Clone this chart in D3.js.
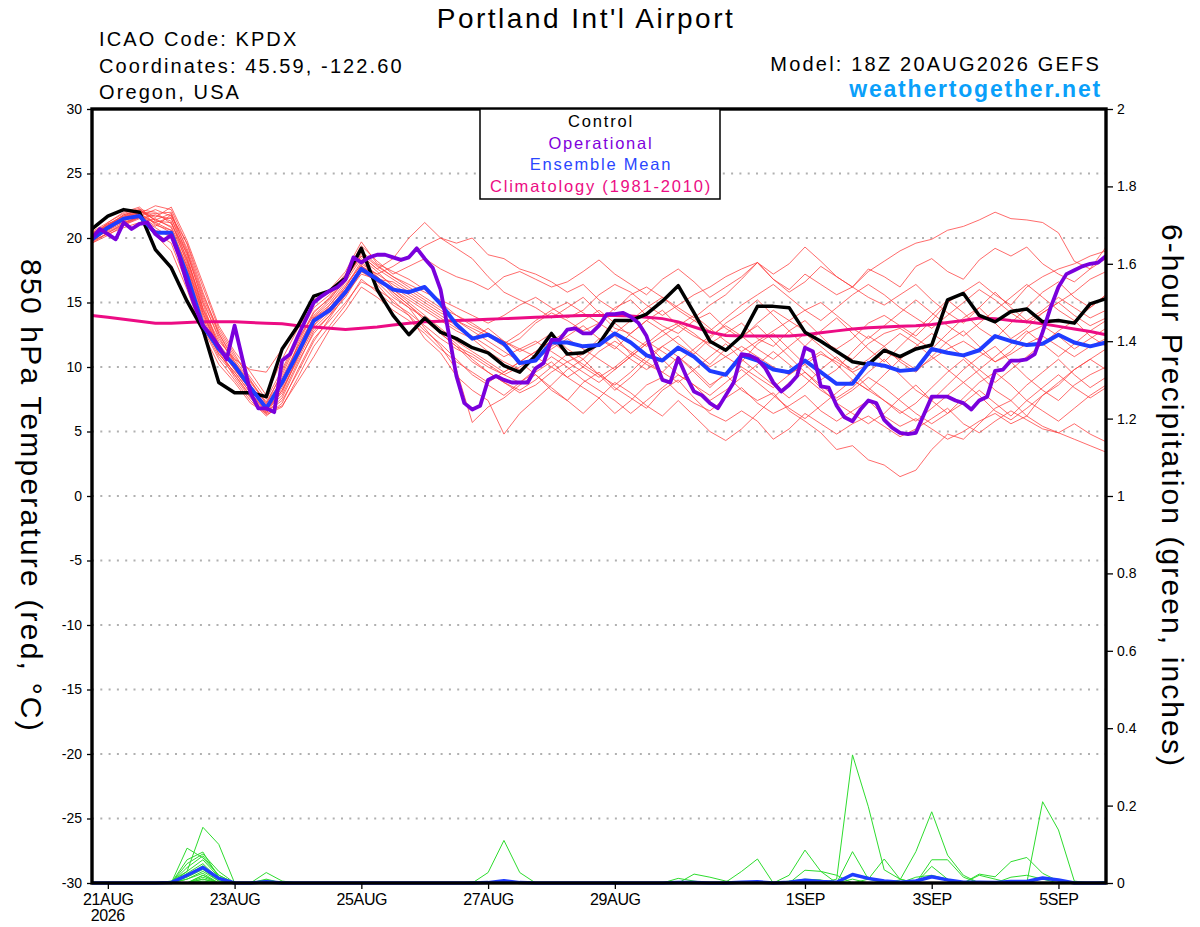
<!DOCTYPE html>
<html>
<head>
<meta charset="utf-8">
<script src="https://cdn.jsdelivr.net/npm/d3@7"></script>
<style>
html, body { margin: 0; padding: 0; background: #fff; }
svg { display: block; }
</style>
</head>
<body>
<svg id="chart" width="1200" height="927"></svg>
<script>
// run start and axis ticks
const runStart = "2026-08-20T18:00:00Z";
const tickDates = ["2026-08-21", "2026-08-23", "2026-08-25", "2026-08-27", "2026-08-29", "2026-09-01", "2026-09-03", "2026-09-05"];
const tickLabels = ["21AUG", "23AUG", "25AUG", "27AUG", "29AUG", "1SEP", "3SEP", "5SEP"];
const tempTicks = [30, 25, 20, 15, 10, 5, 0, -5, -10, -15, -20, -25, -30];
const precipTicks = [0, 0.2, 0.4, 0.6, 0.8, 1, 1.2, 1.4, 1.6, 1.8, 2];

// 850 hPa temperature, 6-hourly (65 steps)
const tempControl = [20.7,21.7,22.2,22.0,19.1,17.7,15.1,12.9,8.8,8.0,8.0,7.7,11.4,13.2,15.5,15.9,16.9,19.2,16.0,14.0,12.5,13.8,12.7,12.2,11.5,11.1,10.1,9.6,10.9,12.6,11.0,11.1,11.8,13.6,13.6,14.1,15.1,16.3,14.2,12.0,11.3,12.4,14.7,14.7,14.6,12.7,12.0,11.2,10.4,10.2,11.3,10.8,11.4,11.7,15.2,15.7,14.0,13.5,14.3,14.5,13.5,13.6,13.4,14.9,15.3];
const tempEnsMean = [19.9,20.8,21.5,21.7,20.4,20.4,17.1,13.2,11.4,10.1,8.4,6.8,8.8,11.1,13.6,14.4,15.8,17.6,16.8,16.0,15.8,16.2,14.9,13.3,12.2,12.5,11.8,10.3,10.5,11.9,11.9,11.6,11.7,12.6,11.9,10.9,10.5,11.5,10.8,9.7,9.4,10.9,10.5,9.8,9.6,10.5,9.6,8.7,8.7,10.3,10.1,9.7,9.8,11.4,11.1,10.9,11.3,12.4,12.0,11.7,11.8,12.5,11.9,11.6,11.9];
const tempClimo = [14.0,13.85,13.7,13.55,13.4,13.4,13.45,13.5,13.5,13.5,13.45,13.4,13.35,13.2,13.1,13.0,12.9,13.0,13.1,13.25,13.4,13.5,13.55,13.6,13.65,13.7,13.75,13.8,13.85,13.9,13.95,14.0,14.0,14.0,13.95,13.85,13.75,13.5,13.1,12.7,12.45,12.4,12.4,12.4,12.4,12.5,12.65,12.8,12.95,13.05,13.1,13.15,13.2,13.3,13.45,13.6,13.8,13.75,13.6,13.5,13.35,13.15,12.95,12.75,12.5];
// operational run is 3-hourly (129 steps)
const tempOperational = [
  20.0,20.7,20.3,19.9,21.2,20.7,21.1,21.2,20.3,19.8,
  20.2,18.6,16.5,14.7,13.2,12.5,11.6,10.6,13.2,10.6,
  8.0,6.8,6.8,6.5,10.5,11.0,12.4,13.7,15.0,15.5,
  15.9,16.2,16.8,18.5,18.1,18.5,18.7,18.7,18.5,18.3,
  18.5,19.2,18.4,17.7,16.0,12.7,9.3,7.2,6.7,7.0,
  9.0,9.3,9.0,8.8,8.8,8.8,9.9,10.3,12.1,12.1,
  12.9,13.0,12.6,12.6,13.2,14.1,14.1,14.2,13.9,13.4,
  12.4,10.6,9.0,8.8,10.7,9.3,8.1,7.8,7.2,6.8,
  7.8,8.8,11.0,10.9,10.6,9.9,8.8,8.1,8.6,9.3,
  11.5,11.2,8.5,8.4,7.0,6.1,5.8,6.7,7.4,7.2,
  5.9,5.3,4.9,4.8,4.9,6.3,7.7,7.7,7.7,7.4,
  7.2,6.7,7.4,7.7,9.7,9.8,10.5,10.5,10.6,11.0,
  12.7,14.6,16.2,17.2,17.5,17.8,18.0,18.1,18.6];

const tempMembers = [
  [20.1,21.0,21.8,22.1,21.4,21.9,18.6,14.5,11.8,10.2,8.4,7.0,8.6,11.2,13.8,14.8,16.2,18.0,17.2,17.8,18.6,19.4,20.0,19.6,20.0,18.7,18.4,17.6,17.2,16.6,15.8,16.4,15.2,14.4,15.6,16.2,15.4,14.6,13.8,14.8,15.6,16.8,18.1,16.8,16.0,17.2,16.4,15.6,16.2,17.4,18.2,19.0,19.6,19.9,20.6,20.9,21.4,22.0,21.5,21.4,21.2,20.4,18.2,17.6,19.3],
  [19.8,20.6,21.4,21.9,22.5,22.2,19.5,15.8,12.6,10.6,8.9,7.3,9.4,12.0,14.3,15.3,16.8,18.6,17.6,18.4,20.0,21.2,20.0,19.2,18.4,17.0,15.8,15.2,14.6,13.8,14.6,15.4,14.2,13.0,12.6,13.6,14.4,13.2,12.4,11.8,12.6,13.4,12.2,11.6,12.8,13.6,12.4,11.2,10.6,11.8,12.6,13.0,12.2,11.4,12.6,13.8,14.6,13.4,12.2,13.0,14.2,15.0,14.0,13.2,13.8],
  [20.3,20.9,21.2,21.6,20.8,20.0,17.2,13.6,11.0,9.6,8.0,6.5,7.6,10.2,12.8,14.0,15.4,17.4,16.6,16.0,15.2,14.4,13.6,12.8,12.2,13.0,12.0,11.2,11.8,12.6,11.4,10.6,11.8,12.4,11.0,10.2,9.6,10.8,9.8,8.6,9.4,8.2,7.4,8.0,6.6,5.8,4.9,3.6,3.9,2.8,2.4,1.5,2.0,3.6,4.8,4.4,5.6,6.8,7.4,6.2,7.8,8.6,9.8,10.6,11.4],
  [19.6,20.4,21.0,21.5,21.8,21.3,18.0,14.2,11.5,9.8,8.2,6.8,8.0,10.8,13.4,14.6,16.0,17.8,17.0,15.6,14.6,13.0,11.6,9.8,5.7,6.9,7.6,8.6,9.4,8.2,7.4,8.8,9.6,8.4,7.6,6.8,8.2,9.0,7.6,6.4,5.8,6.6,5.8,4.4,5.2,6.4,5.6,4.8,5.6,6.2,5.4,4.6,5.2,6.0,6.8,5.6,4.9,5.8,6.6,5.9,5.2,4.9,4.4,3.9,3.4],
  [20.5,21.2,21.9,22.3,21.0,20.6,17.6,13.8,11.2,9.2,7.6,6.3,6.9,9.2,11.6,13.2,14.8,16.8,15.8,14.8,14.0,12.2,11.1,9.3,8.2,7.4,4.8,6.4,7.5,8.6,9.8,10.6,9.4,8.2,9.2,10.4,11.6,10.8,9.6,8.4,9.6,10.4,11.8,12.6,11.4,10.2,9.0,9.8,11.2,12.4,11.6,10.4,9.6,10.8,12.0,12.8,11.6,10.4,11.2,12.6,13.2,12.4,11.4,12.2,13.0],
  [19.9,20.8,21.6,22.0,21.6,22.4,19.8,16.5,13.2,11.2,9.6,7.8,10.6,13.0,15.0,15.8,17.2,19.4,18.2,17.2,17.8,18.4,17.6,17.0,16.6,16.0,17.0,17.4,16.8,16.2,16.6,17.4,18.3,17.2,16.4,15.6,16.8,17.6,16.6,15.4,16.2,17.0,18.1,16.8,15.8,16.6,17.8,17.0,16.2,17.6,17.0,16.2,17.8,18.4,17.4,16.8,18.3,19.2,18.6,19.3,18.0,17.2,16.6,17.6,18.4],
  [20.0,20.5,21.1,21.7,21.2,21.6,18.3,14.9,11.6,10.0,8.6,6.6,8.2,10.6,13.0,14.2,15.6,17.2,16.8,16.6,15.8,15.0,14.2,13.6,13.0,12.4,11.6,12.2,13.4,14.2,13.6,12.8,13.4,14.6,15.2,14.0,13.2,12.6,13.6,14.2,13.0,12.2,13.4,14.4,13.6,12.8,12.0,11.4,12.2,13.4,14.0,13.2,12.4,13.6,15.0,15.8,16.6,15.6,14.8,16.2,17.0,17.6,18.0,18.6,19.0],
  [19.7,20.7,21.5,22.0,20.4,19.6,16.4,13.0,10.6,9.0,7.4,6.2,7.2,9.8,12.2,13.6,15.0,16.6,16.0,15.2,14.0,12.8,11.8,10.6,9.4,8.6,7.8,8.8,9.6,10.4,9.2,8.4,7.6,6.4,7.4,8.6,9.2,8.0,7.2,6.6,7.6,8.4,7.2,6.4,7.0,7.8,6.6,5.8,6.6,7.4,6.2,5.4,6.0,5.2,4.4,5.0,5.8,6.4,5.6,6.2,5.4,4.9,5.6,4.8,4.2],
  [20.2,21.1,21.7,22.2,22.0,21.1,18.8,15.2,12.2,10.4,8.8,7.2,9.0,11.6,13.9,15.0,16.6,18.4,17.4,16.2,15.4,14.6,13.8,13.0,12.4,11.6,10.8,11.4,12.0,11.2,10.4,11.0,12.2,11.6,10.6,9.8,10.6,11.4,10.8,10.0,10.8,11.6,10.8,10.0,9.4,10.2,11.0,10.4,9.6,10.2,11.2,10.6,9.8,10.6,11.4,12.0,11.2,10.4,11.0,11.8,12.4,11.6,10.8,11.6,12.2],
  [20.4,20.9,21.3,21.8,20.9,21.8,19.2,15.6,12.8,10.8,9.2,7.5,9.8,12.4,14.6,15.6,17.0,19.0,17.9,17.0,16.4,15.8,15.2,14.6,14.0,13.4,14.0,14.8,15.4,14.6,13.8,14.4,15.6,16.4,15.8,14.8,14.0,14.8,15.6,16.2,17.0,17.6,18.1,17.2,18.0,19.3,18.2,17.0,16.2,15.4,14.8,15.6,16.4,15.2,14.2,13.4,14.6,15.8,14.6,13.6,14.4,15.4,14.6,13.8,14.4],
  [19.8,20.3,20.8,21.2,21.5,20.8,17.8,14.0,11.4,9.4,7.8,6.5,7.4,9.6,12.0,13.8,15.6,17.6,16.6,15.4,14.6,13.8,12.8,11.8,10.6,9.6,8.8,8.2,9.0,10.0,11.0,10.2,9.4,8.6,9.6,10.8,11.6,12.4,11.2,10.2,11.4,12.4,13.2,12.0,10.8,9.6,8.6,7.6,8.4,9.6,10.6,9.4,8.2,7.4,8.6,9.8,10.8,11.6,10.4,9.2,8.2,7.4,8.6,9.4,10.0],
  [20.0,21.2,22.0,22.4,21.3,21.2,18.4,14.6,12.0,10.6,9.8,9.6,11.4,13.4,15.2,16.0,17.4,19.7,18.0,17.4,16.8,16.0,15.0,14.0,13.2,12.6,12.0,11.4,10.8,11.6,12.4,13.2,12.2,11.4,12.6,13.6,12.8,11.8,11.0,12.2,13.4,14.2,15.2,14.0,12.8,11.6,12.8,13.8,12.6,11.4,10.4,11.6,12.8,14.0,15.2,14.2,13.0,12.2,13.4,14.6,15.8,16.6,15.4,14.6,15.6],
  [19.6,20.2,21.0,21.6,20.2,19.0,16.0,12.6,10.2,8.8,7.2,6.4,7.0,8.9,10.8,12.9,14.4,16.2,15.4,14.4,13.6,12.6,11.4,10.4,9.6,8.8,9.6,10.4,9.4,8.4,7.4,6.4,7.6,8.8,8.0,7.0,6.2,7.4,6.2,5.0,4.3,5.2,6.4,7.6,8.8,9.6,8.4,7.2,6.4,5.6,6.4,7.6,8.6,7.4,6.4,7.6,8.8,9.6,8.6,7.4,6.6,5.8,6.8,7.8,8.6],
  [20.3,21.0,21.6,22.1,21.7,21.5,18.9,15.0,12.4,10.2,8.4,6.9,8.8,11.4,13.6,14.6,16.0,17.8,17.2,16.4,15.6,14.8,14.0,13.2,12.2,11.2,10.4,9.8,10.6,11.4,12.2,11.4,10.6,9.8,10.8,11.8,12.8,13.4,12.6,11.6,10.8,10.0,9.2,8.4,9.4,10.4,11.2,10.2,9.0,8.2,9.4,10.6,11.6,12.6,11.8,10.8,9.8,8.8,9.8,10.8,11.8,12.8,13.6,12.4,11.6],
  [20.1,20.8,21.4,21.9,21.1,20.4,17.4,13.4,11.0,9.6,8.0,6.6,8.4,11.0,13.2,14.4,16.2,18.2,17.0,15.8,14.8,13.8,12.6,11.6,11.0,10.2,9.4,10.0,10.8,10.0,9.2,10.0,11.2,12.0,11.2,10.4,9.6,8.8,9.8,10.8,11.8,10.6,9.6,8.6,7.6,8.6,9.8,10.8,9.6,8.4,7.4,6.4,7.2,8.4,9.6,10.6,9.4,8.2,7.4,8.6,9.6,10.6,9.4,8.4,9.2],
  [19.9,20.6,21.2,21.7,22.2,21.7,19.6,16.2,13.0,11.0,9.0,7.1,9.6,12.2,14.0,15.2,16.8,18.8,17.8,17.0,16.2,15.4,14.6,14.0,13.4,12.6,11.8,12.6,13.6,14.4,15.0,14.2,13.4,12.6,13.6,14.6,15.4,14.4,13.6,12.8,13.8,14.8,15.6,16.4,15.4,14.4,13.6,14.6,15.6,16.4,15.6,14.6,13.8,13.0,14.0,15.0,16.0,15.2,14.2,13.4,14.2,15.0,15.8,16.8,17.4],
  [20.2,20.9,21.8,22.2,21.4,20.9,18.2,14.4,11.6,9.8,8.2,6.7,7.8,10.4,12.6,14.0,15.8,17.6,16.9,15.8,14.8,13.6,12.6,11.6,10.4,9.6,8.8,8.0,8.6,9.6,10.4,9.6,8.8,9.8,10.8,11.8,10.6,9.4,8.6,7.4,8.2,9.2,10.2,11.2,10.2,9.2,8.2,7.4,8.2,9.2,8.4,7.4,6.4,5.6,6.4,7.2,8.2,7.2,6.2,7.4,8.4,9.4,8.4,7.6,8.4],
  [19.7,20.4,21.1,21.6,20.6,20.2,17.0,13.2,10.8,9.4,7.7,6.4,8.2,10.8,13.2,14.8,16.4,17.9,16.4,15.0,14.2,13.2,12.2,11.4,10.8,10.0,9.4,8.8,9.8,10.8,10.0,9.0,8.2,7.4,6.4,7.4,8.4,9.4,8.6,7.8,8.8,9.8,8.8,7.8,6.8,6.0,7.0,8.0,9.0,8.2,7.4,6.6,5.8,6.8,7.8,8.8,7.8,6.6,5.9,6.8,7.8,8.8,9.8,10.6,9.8],
  [20.0,21.0,21.7,22.0,21.9,22.0,19.0,15.4,12.6,10.4,8.6,7.0,8.6,11.8,14.2,15.4,17.0,18.6,17.6,16.8,16.0,15.2,14.4,13.6,12.8,12.0,11.2,10.4,11.2,12.0,12.8,13.6,14.4,13.4,12.4,11.6,12.4,13.2,14.0,13.0,12.0,11.2,12.0,12.8,13.6,14.4,15.0,14.0,13.0,12.2,13.2,14.2,15.2,14.2,13.2,12.4,13.4,14.4,15.4,16.4,15.4,14.4,13.6,14.6,15.6],
  [20.4,21.1,21.5,21.9,21.2,20.6,17.8,14.2,11.4,9.9,8.3,6.8,9.2,11.6,13.8,14.6,15.8,17.4,17.0,16.0,15.0,14.0,13.0,12.0,11.2,10.4,9.6,10.4,11.2,12.0,11.0,10.0,9.2,10.0,11.0,12.0,11.2,10.4,11.4,12.4,13.2,12.4,11.4,10.6,11.6,12.6,11.6,10.6,9.8,10.6,11.6,12.6,11.8,10.8,9.8,8.8,9.8,10.8,11.8,12.8,11.8,10.8,11.8,12.8,13.6]
];

// 6-hour precipitation (inches) by step index; steps not listed read as 0
const precipMembers = [
  {5:0.005, 6:0.03, 7:0.144, 8:0.10},
  {6:0.09, 7:0.065, 8:0.02},
  {6:0.06, 7:0.08, 8:0.015, 26:0.005},
  {6:0.05, 7:0.075, 8:0.03, 11:0.01},
  {6:0.04, 7:0.07, 8:0.02, 47:0.01, 48:0.331, 49:0.197, 50:0.034, 51:0.01},
  {6:0.03, 7:0.06, 8:0.015, 25:0.027, 26:0.11, 27:0.027},
  {6:0.025, 7:0.05, 8:0.01, 51:0.008, 52:0.081, 53:0.184, 54:0.072, 55:0.02},
  {6:0.02, 7:0.045, 8:0.01, 11:0.027, 12:0.005, 60:0.21, 61:0.137, 62:0.005},
  {6:0.02, 7:0.04, 8:0.01, 44:0.02, 45:0.085, 46:0.03, 47:0.02},
  {6:0.015, 7:0.035, 8:0.005, 40:0.002, 41:0.03, 42:0.062},
  {6:0.01, 7:0.03, 8:0.005, 56:0.023, 57:0.016, 58:0.055, 59:0.066, 60:0.025, 61:0.005},
  {6:0.01, 7:0.025, 37:0.012, 38:0.005, 53:0.06, 54:0.06, 55:0.015},
  {7:0.02, 38:0.023, 39:0.015, 40:0.005, 48:0.081, 49:0.01},
  {7:0.02, 45:0.033, 46:0.03, 53:0.043, 54:0.01},
  {7:0.015, 11:0.008, 49:0.01, 50:0.062, 51:0.01},
  {7:0.01, 48:0.02, 49:0.015, 56:0.02, 57:0.01},
  {7:0.01, 58:0.015, 59:0.02, 60:0.01, 64:0.004},
  {7:0.005, 33:0.003, 52:0.015, 53:0.02, 54:0.01},
  {24:0.003, 44:0.005, 45:0.01, 46:0.008},
  {48:0.01, 60:0.012, 61:0.008}
];
const precipMean = {5:0.001, 6:0.02, 7:0.04, 8:0.012, 11:0.003, 25:0.001, 26:0.006, 27:0.001, 37:0.001, 38:0.001, 41:0.002, 42:0.003, 44:0.002, 45:0.007, 46:0.004, 47:0.002, 48:0.022, 49:0.012, 50:0.005, 51:0.002, 52:0.005, 53:0.016, 54:0.008, 55:0.002, 56:0.002, 57:0.001, 58:0.004, 59:0.004, 60:0.013, 61:0.008};

const nSteps = tempControl.length;

// ---------------------------------------------------------------
const svg = d3.select("#chart");
const font = '"Liberation Sans", Arial, Helvetica, sans-serif';
const plot = { left: 92, right: 1106, top: 109, bottom: 883 };

const t0 = new Date(runStart).getTime();
function timeAt(i, stepHours) { return new Date(t0 + i * stepHours * 3600 * 1000); }

const x = d3.scaleUtc().domain([timeAt(0, 6), timeAt(nSteps - 1, 6)]).range([plot.left, plot.right]);
const yT = d3.scaleLinear().domain([-30, 30]).range([plot.bottom, plot.top]);
const yP = d3.scaleLinear().domain([0, 2]).range([plot.bottom, plot.top]);

const lineT = d3.line().x(d => x(d.t)).y(d => yT(d.v));
const lineP = d3.line().x(d => x(d.t)).y(d => yP(d.v));

const series = (vals, step) => vals.map((v, i) => ({ t: timeAt(i, step), v: v }));
const fromSparse = obj => d3.range(nSteps).map(i => ({ t: timeAt(i, 6), v: obj[i] || 0 }));

// dotted grid
svg.append("g").selectAll("line")
  .data(tempTicks.filter(v => v > -30 && v < 30))
  .join("line")
  .attr("x1", plot.left).attr("x2", plot.right)
  .attr("y1", d => yT(d)).attr("y2", d => yT(d))
  .attr("stroke", "#b0b0b0").attr("stroke-width", 2)
  .attr("stroke-dasharray", "2,6.3");

// ensemble members (temperature)
svg.append("g").selectAll("path")
  .data(tempMembers)
  .join("path")
  .attr("d", d => lineT(series(d, 6)))
  .attr("fill", "none").attr("stroke", "#ff3c3c")
  .attr("stroke-width", 0.9).attr("stroke-opacity", 0.85);

// ensemble members (precip)
svg.append("g").selectAll("path")
  .data(precipMembers)
  .join("path")
  .attr("d", d => lineP(fromSparse(d)))
  .attr("fill", "none").attr("stroke", "#2edc2e")
  .attr("stroke-width", 1);

// climatology
svg.append("path")
  .attr("d", lineT(series(tempClimo, 6)))
  .attr("fill", "none").attr("stroke", "#ec0c84").attr("stroke-width", 3);

// control
svg.append("path")
  .attr("d", lineT(series(tempControl, 6)))
  .attr("fill", "none").attr("stroke", "#000").attr("stroke-width", 3.5)
  .attr("stroke-linejoin", "round");

// ensemble mean temp + precip
svg.append("path")
  .attr("d", lineT(series(tempEnsMean, 6)))
  .attr("fill", "none").attr("stroke", "#1f3cff").attr("stroke-width", 4)
  .attr("stroke-linejoin", "round");
svg.append("path")
  .attr("d", lineP(fromSparse(precipMean)))
  .attr("fill", "none").attr("stroke", "#1f3cff").attr("stroke-width", 3.5)
  .attr("stroke-linejoin", "round");

// operational
svg.append("path")
  .attr("d", lineT(series(tempOperational, 3)))
  .attr("fill", "none").attr("stroke", "#7a00dc").attr("stroke-width", 3.8)
  .attr("stroke-linejoin", "round");

// frame
svg.append("rect")
  .attr("x", plot.left).attr("y", plot.top)
  .attr("width", plot.right - plot.left).attr("height", plot.bottom - plot.top)
  .attr("fill", "none").attr("stroke", "#000").attr("stroke-width", 3.4);

// axes
const gL = svg.append("g").attr("transform", `translate(${plot.left},0)`)
  .call(d3.axisLeft(yT).tickValues(tempTicks).tickSize(5).tickPadding(5).tickFormat(d => String(d)));
const gR = svg.append("g").attr("transform", `translate(${plot.right},0)`)
  .call(d3.axisRight(yP).tickValues(precipTicks).tickSize(7).tickPadding(4)
    .tickFormat(d => (d === 0 || d === 1 || d === 2) ? String(d) : d.toFixed(1)));
const gB = svg.append("g").attr("transform", `translate(0,${plot.bottom})`)
  .call(d3.axisBottom(x).tickValues(tickDates.map(d => new Date(d + "T00:00:00Z")))
    .tickSize(6).tickFormat((d, i) => tickLabels[i]));

[gL, gR, gB].forEach(g => {
  g.select(".domain").remove();
  g.selectAll(".tick line").attr("stroke", "#000").attr("stroke-width", 1.3);
  g.selectAll("text").attr("font-family", font).attr("fill", "#000");
});
gL.selectAll("text").attr("font-size", 14);
gR.selectAll("text").attr("font-size", 14);
gB.selectAll("text").attr("font-size", 16).attr("letter-spacing", "-0.4px").attr("y", 22).attr("dy", 0);

svg.append("text")
  .attr("x", x(new Date(tickDates[0] + "T00:00:00Z"))).attr("y", 921)
  .attr("text-anchor", "middle").attr("font-family", font).attr("font-size", 16)
  .attr("letter-spacing", "-0.4px")
  .text("2026");

// axis titles
svg.append("text")
  .attr("transform", "translate(21,496) rotate(90)")
  .attr("text-anchor", "middle").attr("font-family", font).attr("font-size", 30)
  .attr("letter-spacing", "2.2px")
  .text("850 hPa Temperature (red, °C)");
svg.append("text")
  .attr("transform", "translate(1162,496) rotate(90)")
  .attr("text-anchor", "middle").attr("font-family", font).attr("font-size", 30)
  .attr("letter-spacing", "2.1px")
  .text("6-hour Precipitation (green, inches)");

// header
svg.append("text")
  .attr("x", 586).attr("y", 28).attr("text-anchor", "middle")
  .attr("font-family", font).attr("font-size", 28).attr("letter-spacing", "2.5px")
  .text("Portland Int'l Airport");

const infoLines = ["ICAO Code: KPDX", "Coordinates: 45.59, -122.60", "Oregon, USA"];
svg.append("g").selectAll("text").data(infoLines).join("text")
  .attr("x", 99).attr("y", (d, i) => 46 + i * 26.7)
  .attr("font-family", font).attr("font-size", 20).attr("letter-spacing", "2.1px")
  .text(d => d);

svg.append("text")
  .attr("x", 1101).attr("y", 71).attr("text-anchor", "end")
  .attr("font-family", font).attr("font-size", 20).attr("letter-spacing", "2.2px")
  .text("Model: 18Z 20AUG2026 GEFS");
svg.append("text")
  .attr("x", 1102).attr("y", 97).attr("text-anchor", "end")
  .attr("font-family", font).attr("font-size", 23).attr("font-weight", "bold")
  .attr("letter-spacing", "1.8px").attr("fill", "#0aa0fa")
  .text("weathertogether.net");

// legend
const legendItems = ["Control", "Operational", "Ensemble Mean", "Climatology (1981-2010)"];
const legendColors = ["#000000", "#7f00dc", "#2a46ff", "#ec0c84"];
svg.append("rect")
  .attr("x", 480).attr("y", plot.top).attr("width", 240).attr("height", 90)
  .attr("fill", "#fff").attr("stroke", "#000").attr("stroke-width", 1.5);
svg.append("g").selectAll("text").data(legendItems).join("text")
  .attr("x", 601).attr("y", (d, i) => 127 + i * 21.6)
  .attr("text-anchor", "middle").attr("font-family", font).attr("font-size", 16.5)
  .attr("letter-spacing", "1.8px")
  .attr("fill", (d, i) => legendColors[i])
  .text(d => d);
</script>
</body>
</html>
